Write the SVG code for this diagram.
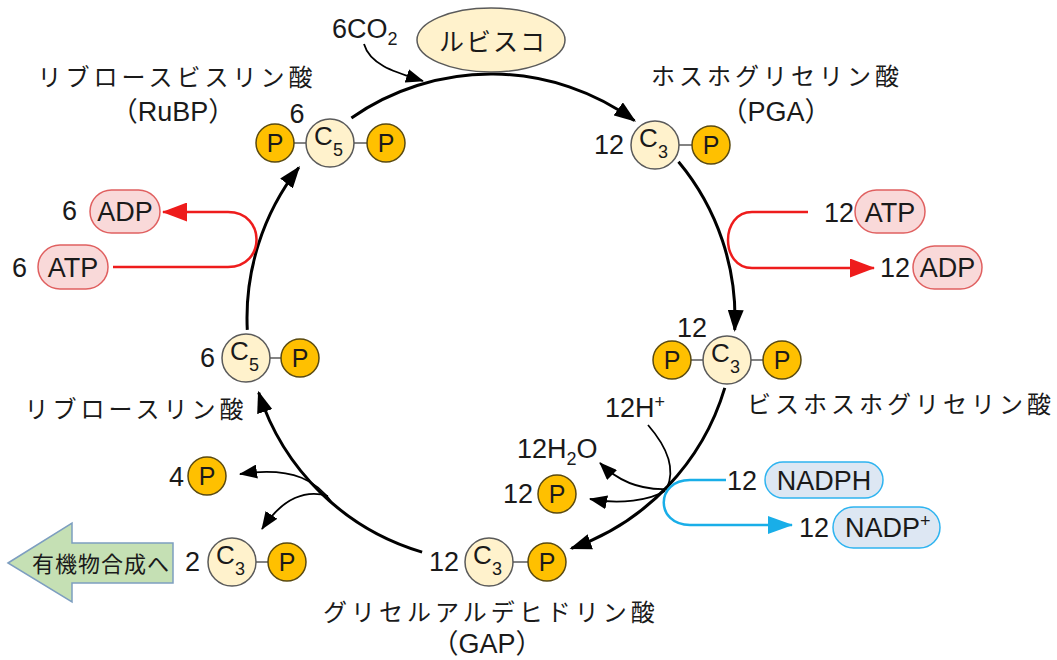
<svg xmlns="http://www.w3.org/2000/svg" width="1057" height="660" viewBox="0 0 1057 660">
<style>
.c{fill:#fff2cc;stroke:#5a5a5a;stroke-width:1.5}
.p{fill:#ffc000;stroke:#5a4a10;stroke-width:1.5}
.bond{stroke:#5a5a5a;stroke-width:1.5}
.t{font-family:"Liberation Sans","Noto Sans CJK JP",sans-serif;fill:#1a1a1a;font-size:27px}
.ct{font-size:26px}
.sub{font-size:18px}
.pt{font-size:25px;text-anchor:middle}
.mid{text-anchor:middle}
.end{text-anchor:end}
.jp{font-family:"Noto Sans CJK JP",sans-serif;font-size:24px;letter-spacing:4px;fill:#1a1a1a;text-anchor:middle}
.pk{fill:#f9d9d9;stroke:#e06060;stroke-width:1.5}
.bl{fill:#dde7f3;stroke:#2fb4f0;stroke-width:1.5}
.main{fill:none;stroke:#000;stroke-width:3;marker-end:url(#big)}
.thin{fill:none;stroke:#000;stroke-width:1.8}
.red{fill:none;stroke:#ee1c1c;stroke-width:2.5;marker-end:url(#ra)}
.blue{fill:none;stroke:#19aee8;stroke-width:2.5;marker-end:url(#ba)}
</style>
<defs>
<marker id="big" markerUnits="userSpaceOnUse" markerWidth="22" markerHeight="16" viewBox="0 0 22 16" refX="20" refY="8" orient="auto"><path d="M0,0 L22,8 L0,16 Z" fill="#000"/></marker>
<marker id="sm" markerUnits="userSpaceOnUse" markerWidth="18" markerHeight="14" viewBox="0 0 18 14" refX="17" refY="7" orient="auto"><path d="M0,0 L18,7 L0,14 Z" fill="#000"/></marker>
<marker id="ra" markerUnits="userSpaceOnUse" markerWidth="25" markerHeight="19" viewBox="0 0 25 19" refX="24" refY="9.5" orient="auto"><path d="M0,0 L25,9.5 L0,19 Z" fill="#ee1c1c"/></marker>
<marker id="ba" markerUnits="userSpaceOnUse" markerWidth="25" markerHeight="18" viewBox="0 0 25 18" refX="24" refY="9" orient="auto"><path d="M0,0 L25,9 L0,18 Z" fill="#19aee8"/></marker>
</defs>

<g id="connectors">
<path class="main" d="M351.4,117.9 A244,244 0 0 1 634.4,120.6"/>
<path class="main" d="M678.5,161.8 A244,244 0 0 1 734.7,329.9"/>
<path class="main" d="M724.8,387.9 A244,244 0 0 1 571.4,548.4"/>
<path class="main" d="M422.1,552.1 A244,244 0 0 1 258.7,392.6"/>
<path class="main" d="M247.3,329.9 A244,244 0 0 1 298.8,167.7"/>
<path class="thin" marker-end="url(#sm)" d="M364,44 C370,65 395,72 423,81"/>
<path class="thin" d="M648,425 C668,448 675,470 667,488"/>
<path class="thin" marker-end="url(#sm)" d="M667,489 C645,490 622,485 600,463"/>
<path class="thin" marker-end="url(#sm)" d="M665,491 C650,500 620,505 590,499"/>
<path class="thin" marker-end="url(#sm)" d="M333,504 C318,482 295,466 240,474"/>
<path class="thin" marker-end="url(#sm)" d="M328,496 C300,488 278,505 262,529"/>
<path class="red" d="M808,212 L752,212 C720,212 720,268 752,268 L874,268"/>
<path class="red" d="M113,267 L228,267 C266,267 266,212 228,212 L163,212"/>
<path class="blue" d="M726,480 L690,480 C655,480 655,525 690,525 L792,525"/>
</g>

<g id="n-rubisco">
<ellipse cx="491" cy="40" rx="74" ry="32" class="c"/>
<text class="jp" x="493" y="51" style="font-size:25px;letter-spacing:2px">ルビスコ</text>
</g>

<g id="n-co2">
<text class="t" x="332" y="38">6CO<tspan class="sub" dy="7">2</tspan></text>
</g>

<g id="n-rubp">
<text class="jp" x="177" y="86">リブロースビスリン酸</text>
<text class="t mid" x="173" y="121">（RuBP）</text>
<text class="t mid" x="297" y="123">6</text>
<line class="bond" x1="275" y1="143" x2="386" y2="143"/>
<circle class="p" cx="275" cy="143" r="19"/>
<circle class="c" cx="330" cy="143" r="24"/>
<circle class="p" cx="386" cy="143" r="19"/>
<text class="t pt" x="275" y="152">P</text>
<text class="t ct" x="314" y="145">C<tspan class="sub" x="333" y="156">5</tspan></text>
<text class="t pt" x="386" y="152">P</text>
</g>

<g id="n-pga">
<text class="jp" x="777" y="85">ホスホグリセリン酸</text>
<text class="t mid" x="776" y="121">（PGA）</text>
<text class="t end" x="624" y="154">12</text>
<line class="bond" x1="655" y1="145" x2="711" y2="145"/>
<circle class="c" cx="655" cy="145" r="24"/>
<circle class="p" cx="711" cy="145" r="19"/>
<text class="t ct" x="639" y="147">C<tspan class="sub" x="658" y="158">3</tspan></text>
<text class="t pt" x="711" y="154">P</text>
</g>

<g id="n-atp-r">
<text class="t end" x="854" y="222">12</text>
<rect class="pk" x="855" y="190" width="70" height="43" rx="21.5"/>
<text class="t mid" x="890" y="222">ATP</text>
</g>

<g id="n-adp-r">
<text class="t end" x="910" y="277">12</text>
<rect class="pk" x="913" y="246" width="69" height="43" rx="21.5"/>
<text class="t mid" x="947.5" y="277">ADP</text>
</g>

<g id="n-adp-l">
<text class="t end" x="77" y="220">6</text>
<rect class="pk" x="90" y="190" width="70" height="43" rx="21.5"/>
<text class="t mid" x="125" y="221">ADP</text>
</g>

<g id="n-atp-l">
<text class="t end" x="27" y="277">6</text>
<rect class="pk" x="38" y="245" width="70" height="44" rx="22"/>
<text class="t mid" x="73" y="277">ATP</text>
</g>

<g id="n-bpg">
<text class="t mid" x="692" y="337">12</text>
<line class="bond" x1="672" y1="360" x2="782" y2="360"/>
<circle class="p" cx="672" cy="360" r="19"/>
<circle class="c" cx="727" cy="360" r="24"/>
<circle class="p" cx="782" cy="360" r="19"/>
<text class="t pt" x="672" y="369">P</text>
<text class="t ct" x="711" y="362">C<tspan class="sub" x="730" y="373">3</tspan></text>
<text class="t pt" x="782" y="369">P</text>
<text class="jp" x="901" y="413">ビスホスホグリセリン酸</text>
</g>

<g id="n-hplus">
<text class="t" x="605" y="417">12H<tspan class="sub" dy="-9">+</tspan></text>
</g>

<g id="n-h2o">
<text class="t" x="517" y="458">12H<tspan class="sub" dy="7">2</tspan><tspan dy="-7">O</tspan></text>
</g>

<g id="n-pi12">
<text class="t end" x="533" y="503">12</text>
<circle class="p" cx="557" cy="494" r="19"/>
<text class="t pt" x="557" y="503">P</text>
</g>

<g id="n-nadph">
<text class="t end" x="757" y="490">12</text>
<rect class="bl" x="765" y="462" width="118" height="36" rx="18"/>
<text class="t mid" x="824" y="490">NADPH</text>
</g>

<g id="n-nadp">
<text class="t end" x="829" y="537">12</text>
<rect class="bl" x="833" y="507" width="107" height="41" rx="20.5"/>
<text class="t" x="845" y="537">NADP<tspan class="sub" dy="-10">+</tspan></text>
</g>

<g id="n-gap">
<text class="t end" x="459" y="571">12</text>
<line class="bond" x1="489" y1="562" x2="547" y2="562"/>
<circle class="c" cx="489" cy="562" r="24"/>
<circle class="p" cx="547" cy="562" r="19"/>
<text class="t ct" x="473" y="564">C<tspan class="sub" x="492" y="575">3</tspan></text>
<text class="t pt" x="547" y="571">P</text>
<text class="jp" x="491" y="621">グリセルアルデヒドリン酸</text>
<text class="t mid" x="487" y="653">（GAP）</text>
</g>

<g id="n-ru5p">
<text class="t end" x="215" y="367">6</text>
<line class="bond" x1="246" y1="358" x2="300" y2="358"/>
<circle class="c" cx="246" cy="358" r="24"/>
<circle class="p" cx="300" cy="358" r="19"/>
<text class="t ct" x="230" y="360">C<tspan class="sub" x="249" y="371">5</tspan></text>
<text class="t pt" x="300" y="367">P</text>
<text class="jp" x="136" y="418">リブロースリン酸</text>
</g>

<g id="n-pi4">
<text class="t end" x="184" y="486">4</text>
<circle class="p" cx="207" cy="476" r="19"/>
<text class="t pt" x="207" y="485">P</text>
</g>

<g id="n-c3out">
<text class="t end" x="200" y="571">2</text>
<line class="bond" x1="232" y1="562" x2="287" y2="562"/>
<circle class="c" cx="232" cy="562" r="24"/>
<circle class="p" cx="287" cy="562" r="19"/>
<text class="t ct" x="216" y="564">C<tspan class="sub" x="235" y="575">3</tspan></text>
<text class="t pt" x="287" y="571">P</text>
</g>

<g id="n-organic">
<polygon points="8,563 72,523 72,543 173,543 173,583 72,583 72,602" fill="#c5e0b4" stroke="#7d9ec0" stroke-width="1.5"/>
<text class="jp" x="101" y="572" style="font-size:22px;letter-spacing:1px">有機物合成へ</text>
</g>
</svg>
